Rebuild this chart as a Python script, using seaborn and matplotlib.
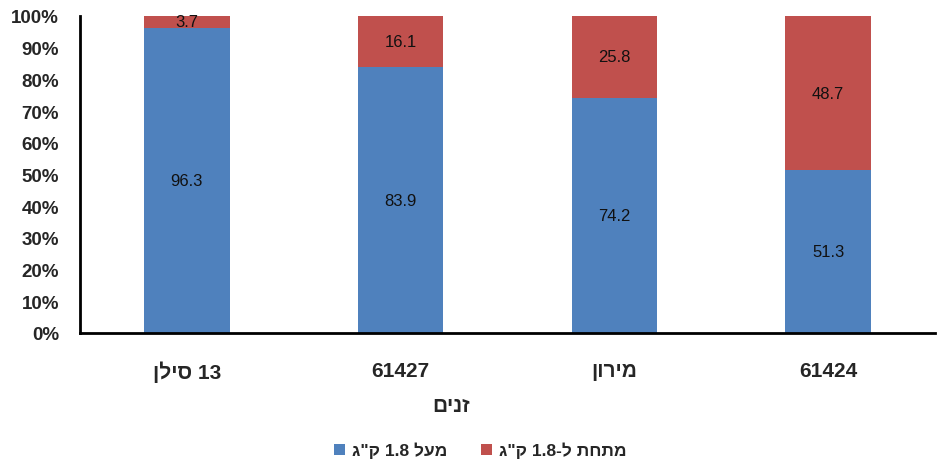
import numpy as np
import pandas as pd
import matplotlib
matplotlib.use("Agg")
import matplotlib.pyplot as plt
import seaborn as sns
from matplotlib.patches import Patch

# Hebrew strings are written in visual (left-to-right) order since matplotlib has no bidi
categories = ["ןליס 13", "61427", "ןורימ", "61424"]
above_18 = [96.3, 83.9, 74.2, 51.3]
below_18 = [3.7, 16.1, 25.8, 48.7]
y_ticks = [0, 10, 20, 30, 40, 50, 60, 70, 80, 90, 100]
x_title = "םינז"
legend_above = 'ג"ק 1.8 לעמ'
legend_below = 'ג"ק 1.8-ל תחתמ'

blue = "#4F81BD"
red = "#C0504D"

df = pd.DataFrame({"cat": categories, "above": above_18, "below": below_18})
df["total"] = df["above"] + df["below"]

sns.set_style("white")
plt.rcParams["font.family"] = ["Liberation Sans", "DejaVu Sans"]

fig = plt.figure(figsize=(9.38, 4.64), dpi=100)
ax = fig.add_axes([0.0853, 0.2802, 0.9115, 0.6832])

# red drawn full height behind, blue on top -> stacked look
sns.barplot(data=df, x="cat", y="total", color=red, saturation=1, width=0.4,
            linewidth=0, ax=ax)
sns.barplot(data=df, x="cat", y="above", color=blue, saturation=1, width=0.4,
            linewidth=0, ax=ax)

for i, row in df.iterrows():
    ax.text(i, row["above"] / 2, f"{row['above']:.1f}", ha="center", va="center",
            fontsize=12, color="#111111")
    ax.text(i, row["above"] + row["below"] / 2, f"{row['below']:.1f}", ha="center",
            va="center", fontsize=12, color="#111111")

ax.set_ylim(0, 100)
ax.set_xlim(-0.5, 3.5)
ax.set_yticks(y_ticks)
ax.set_yticklabels([f"{t}%" for t in y_ticks], fontsize=13.5, fontweight="bold")
ax.set_xticks(range(len(categories)))
ax.set_xticklabels(categories, fontsize=15, fontweight="bold")
ax.tick_params(axis="x", length=0, pad=20)
ax.tick_params(axis="y", length=0, pad=15)

ax.set_ylabel("")
ax.set_xlabel(x_title, fontsize=15, fontweight="bold")
ax.xaxis.set_label_coords(0.434, -0.2)

for side in ["top", "right"]:
    ax.spines[side].set_visible(False)
for side in ["left", "bottom"]:
    ax.spines[side].set_color("black")
    ax.spines[side].set_linewidth(2)

handles = [Patch(facecolor=blue, edgecolor="none"), Patch(facecolor=red, edgecolor="none")]
fig.legend(handles, [legend_above, legend_below], loc="center", bbox_to_anchor=(0.512, 0.028),
           ncol=2, frameon=False, handlelength=0.6, handleheight=0.6, handletextpad=0.4,
           columnspacing=2.0, prop={"weight": "bold", "size": 12.5})

fig.savefig("out.png", dpi=100)
